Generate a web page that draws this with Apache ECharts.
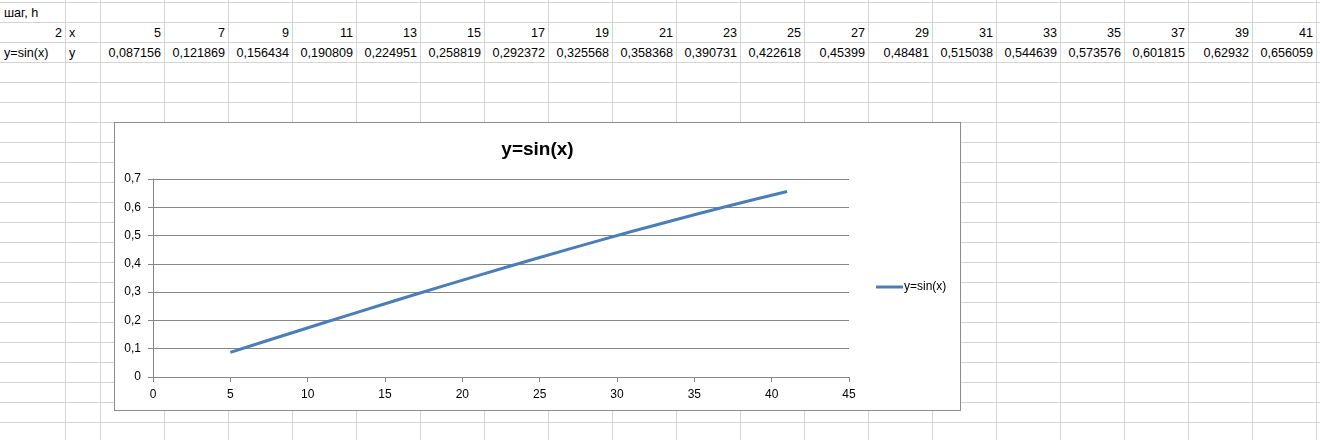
<!DOCTYPE html>
<html>
<head>
<meta charset="utf-8">
<script src="https://cdn.jsdelivr.net/npm/echarts@6/dist/echarts.min.js"></script>
<style>
html,body{margin:0;padding:0;background:#fff;width:1320px;height:440px;overflow:hidden;position:relative;}
#sheet{position:absolute;left:0;top:0;width:1320px;height:440px;font-family:'Liberation Sans',Arial,sans-serif;font-size:12.6px;color:#000;}
.hl{position:absolute;left:0;width:1320px;height:1px;background:#d4d4d4;}
.vl{position:absolute;top:0;width:1px;height:440px;background:#d4d4d4;}
.cell{position:absolute;height:20px;line-height:20px;white-space:nowrap;box-sizing:border-box;padding:0 3px;}
.cell.num{text-align:right;}
#chart{position:absolute;left:114px;top:122px;width:845px;height:287px;border:1px solid #8c8c8c;background:#fff;}
</style>
</head>
<body>
<div id="sheet"></div>
<div id="chart"></div>
<script>
const stepLabel = 'шаг, h';
const stepValue = 2;
const xRowLabel = 'x';
const yRowName = 'y=sin(x)';
const yRowLabel = 'y';
const xValues = [5, 7, 9, 11, 13, 15, 17, 19, 21, 23, 25, 27, 29, 31, 33, 35, 37, 39, 41];
const yValues = [0.087156, 0.121869, 0.156434, 0.190809, 0.224951, 0.258819, 0.292372, 0.325568, 0.358368, 0.390731, 0.422618, 0.45399, 0.48481, 0.515038, 0.544639, 0.573576, 0.601815, 0.62932, 0.656059];
const chartTitle = 'y=sin(x)';
const seriesName = 'y=sin(x)';

// spreadsheet background
const sheet = document.getElementById('sheet');
const colEdges = [0, 65, 100];
for (let i = 0; i < xValues.length; i++) colEdges.push(100 + 64 * (i + 1));
const rowTop = 2, rowH = 20;
colEdges.slice(1).forEach(x => { const d = document.createElement('div'); d.className = 'vl'; d.style.left = x + 'px'; sheet.appendChild(d); });
for (let y = rowTop; y < 440; y += rowH) { const d = document.createElement('div'); d.className = 'hl'; d.style.top = y + 'px'; sheet.appendChild(d); }
function cell(row, col, txt, num) {
  const d = document.createElement('div');
  d.className = 'cell' + (num ? ' num' : '');
  d.style.top = (rowTop + row * rowH + 1) + 'px';
  d.style.left = (colEdges[col] + 1) + 'px';
  d.style.width = (colEdges[col + 1] - colEdges[col] - 1) + 'px';
  d.textContent = txt;
  sheet.appendChild(d);
}
const fmt = v => String(v).replace('.', ',');
cell(0, 0, stepLabel, false);
cell(1, 0, String(stepValue), true);
cell(1, 1, xRowLabel, false);
cell(2, 0, yRowName, false);
cell(2, 1, yRowLabel, false);
xValues.forEach((x, i) => cell(1, i + 2, String(x), true));
yValues.forEach((y, i) => cell(2, i + 2, fmt(y), true));

const chart = echarts.init(document.getElementById('chart'));
const font = 'Liberation Sans';
const gray = '#868686';
chart.setOption({
  animation: false,
  backgroundColor: '#fff',
  title: {
    text: chartTitle, left: 'center', top: 11,
    textStyle: { fontFamily: font, fontSize: 19, fontWeight: 'bold', color: '#000', lineHeight: 22 }
  },
  legend: {
    data: [seriesName], orient: 'vertical', left: 761, top: 158, padding: 0,
    icon: 'rect', itemWidth: 27, itemHeight: 3, itemGap: 0,
    textStyle: { fontFamily: font, fontSize: 12, color: '#000', padding: [0, 0, 0, -4] }
  },
  grid: { left: 38, top: 56, width: 696, height: 198, containLabel: false },
  xAxis: {
    type: 'value', min: 0, max: 45, interval: 5,
    axisLine: { show: true, onZero: false, lineStyle: { color: gray, width: 1 } },
    axisTick: { show: true, length: 5, lineStyle: { color: gray } },
    splitLine: { show: false },
    axisLabel: { fontFamily: font, fontSize: 12, color: '#000', margin: 12 }
  },
  yAxis: {
    type: 'value', min: 0, max: 0.7, interval: 0.1,
    axisLine: { show: true, lineStyle: { color: gray, width: 1 } },
    axisTick: { show: true, length: 5, lineStyle: { color: gray } },
    splitLine: { show: true, lineStyle: { color: gray, width: 1 } },
    axisLabel: {
      fontFamily: font, fontSize: 12, color: '#000', margin: 12,
      formatter: v => v === 0 ? '0' : v.toFixed(1).replace('.', ',')
    }
  },
  series: [{
    name: seriesName, type: 'line',
    data: xValues.map((x, i) => [x, yValues[i]]),
    showSymbol: false, symbol: 'none', smooth: false,
    lineStyle: { color: '#4a7ebb', width: 3 },
    itemStyle: { color: '#4a7ebb' }
  }]
});
</script>
</body>
</html>
